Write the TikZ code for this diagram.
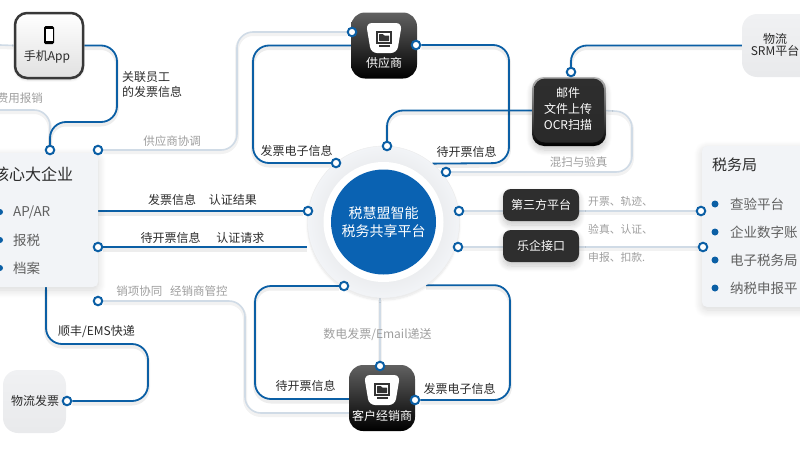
\documentclass[tikz,border=0pt]{standalone}
\usepackage{fontspec}
\setmainfont{Noto Sans CJK SC}
\usetikzlibrary{backgrounds,shadows,shadows.blur}
\definecolor{flowblue}{HTML}{0B5FA5}
\definecolor{diskblue}{HTML}{0A62B2}
\definecolor{flowgrey}{HTML}{D0DBE6}
\definecolor{panelgrey}{HTML}{F2F4F7}
\definecolor{softbox}{HTML}{F0F1F3}
\definecolor{darkbox}{HTML}{2E2E2E}
\definecolor{darktext}{HTML}{2B2B2B}
\definecolor{greytext}{HTML}{9E9E9E}
\definecolor{itemtext}{HTML}{606060}
\begin{document}
\begin{tikzpicture}[
        x=1pt, y=-1pt,
        blue_flow/.style={draw=flowblue, line width=1.8pt, rounded corners=16, preaction={draw=black, opacity=.07, line width=4pt, transform canvas={yshift=-2.5pt}}},
        grey_flow/.style={draw=flowgrey, line width=1.6pt, rounded corners=16, preaction={draw=black, opacity=.05, line width=4pt, transform canvas={yshift=-2pt}}},
        port/.style={circle, draw=flowblue, line width=2pt, fill=white, minimum size=8.5pt, inner sep=0pt},
        dark_label/.style={font=\fontsize{12}{14}\selectfont, text=darktext, inner sep=0pt},
        grey_label/.style={font=\fontsize{11.5}{14}\selectfont, text=greytext, inner sep=0pt},
        item_label/.style={font=\fontsize{13.5}{16}\selectfont, text=itemtext, inner sep=0pt, anchor=west},
        white_label/.style={font=\fontsize{12}{16}\selectfont, text=white, inner sep=0pt, align=center},
        app_tile/.style={draw=black!78, line width=2.5pt, rounded corners=12, top color=white, bottom color=black!12, minimum width=68pt, minimum height=65pt, blur shadow={shadow xshift=0pt, shadow yshift=-2pt, shadow blur steps=6, shadow opacity=15}},
        black_tile/.style={rounded corners=14, top color=black!62, middle color=black!92, bottom color=black, minimum width=66pt, minimum height=66pt},
        dark_tile/.style={rounded corners=8, fill=darkbox, minimum width=76pt, minimum height=32pt, blur shadow={shadow xshift=0pt, shadow yshift=-4pt, shadow blur steps=10, shadow blur radius=6pt, shadow opacity=22}},
        soft_tile/.style={rounded corners=15, top color=softbox, bottom color=softbox!97!black, minimum size=63pt},
        panel/.style={rounded corners=5, fill=panelgrey, blur shadow={shadow xshift=0pt, shadow yshift=-3pt, shadow blur steps=12, shadow blur radius=8pt, shadow opacity=16}}
    ]
        \path[use as bounding box, clip] (0,0) rectangle (800,450);

        % Center platform
        \node[circle, minimum size=152pt, inner sep=0pt, draw=black!8, inner color=black!16, outer color=panelgrey, blur shadow={shadow xshift=0pt, shadow yshift=-2pt, shadow blur steps=6, shadow opacity=10}] (center_ring) at (383.5,222) {};
        \node[circle, minimum size=120pt, inner sep=0pt, fill=white] (center_gap) at (383.5,222) {};
        \node[circle, minimum size=105pt, inner sep=0pt, fill=diskblue, text=white, align=center, font=\fontsize{14}{18}\selectfont] (center_disk) at (383.5,222) {税慧盟智能\\税务共享平台};

        % Left panel
        \node[panel, minimum width=108pt, minimum height=134pt] (core_box) at (44,220) {};
        \node[inner sep=0pt, text=darktext, font=\fontsize{16}{18}\selectfont, anchor=west] (core_title) at (-7,174) {核心大企业};
        \foreach \cy/\item in {212/{AP/AR},240/报税,268/档案} {
            \fill[flowblue] (0,\cy) circle (3);
            \node[item_label] (core_item\cy) at (13,\cy) {\item};
        }

        % Right panel
        \node[panel, minimum width=118pt, minimum height=161pt] (tax_box) at (761,226.5) {};
        \node[inner sep=0pt, text=darktext, font=\fontsize{15}{18}\selectfont, anchor=west] (tax_title) at (712,165) {税务局};
        \foreach \cy/\item in {204/查验平台,232/企业数字账,260/电子税务局,288/纳税申报平} {
            \fill[flowblue] (715,\cy) circle (3.5);
            \node[item_label] (tax_item\cy) at (730,\cy) {\item};
        }

        % Tiles
        \node[app_tile] (app_box) at (49,45.5) {};
        \node[black_tile] (supplier_box) at (384,45.5) {};
        \node[black_tile] (dealer_box) at (382,398) {};
        \node[rounded corners=12, top color=black!30, bottom color=black, minimum width=74pt, minimum height=69pt, blur shadow={shadow xshift=0pt, shadow yshift=-4pt, shadow blur steps=10, shadow blur radius=6pt, shadow opacity=22}] (mail_halo) at (569,111.5) {};
        \node[rounded corners=11, top color=darkbox, bottom color=darkbox!90!black, minimum width=70pt, minimum height=64pt] (mail_box) at (569,110.5) {};
        \node[dark_tile] (third_box) at (541,205) {};
        \node[dark_tile] (leqi_box) at (541,246) {};
        \node[soft_tile] (logistics_box) at (34.5,401.5) {};
        \node[soft_tile, minimum width=90pt] (srm_box) at (787,45.5) {};

        % Icons on the tiles
        \fill[black, rounded corners=1.5] (44,26) rectangle (54,44);
        \fill[white] (45.5,29) rectangle (52.5,41);
        \foreach \cx/\cy in {384/38,382/390} {
            \begin{scope}[shift={(\cx,\cy)}]
                \fill[white, rounded corners=6] (-18,-15) -- (18,-15) -- (13,15) -- (-13,15) -- cycle;
                \draw[black!80, line width=1.2pt, fill=white] (-7,-6) rectangle (7,5);
                \fill[black!80, rounded corners=.5] (-5,-4) -- (-1,-4) -- (0,-2.5) -- (5,-2.5) -- (5,3) -- (-5,3) -- cycle;
                \fill[black!80] (-5.5,7) rectangle (5.5,8.5);
            \end{scope}
        }

        % Tile texts
        \node[dark_label] (app_text) at (47,57) {手机App};
        \node[white_label] (supplier_text) at (384,63) {供应商};
        \node[white_label] (dealer_text) at (382,416) {客户经销商};
        \node[white_label, font=\fontsize{12}{16}\selectfont] (mail_text) at (568,109) {邮件\\文件上传\\OCR扫描};
        \node[white_label] (third_text) at (541,205) {第三方平台};
        \node[white_label] (leqi_text) at (541,246) {乐企接口};
        \node[dark_label] (logistics_text) at (35,401) {物流发票};
        \node[dark_label, align=center, font=\fontsize{12}{12}\selectfont] (srm_text) at (775,45) {物流\\SRM平台};

        % Ports
        \node[port] (app_port) at (50,150) {};
        \node[port] (coop_port) at (98,150) {};
        \node[port] (req_port) at (98,247) {};
        \node[port] (sales_port) at (98,301) {};
        \node[port] (logistics_port) at (67,401) {};
        \node[port] (supply_in_port) at (352,32) {};
        \node[port] (supply_out_port) at (416,45) {};
        \node[port] (issue_port) at (336,163) {};
        \node[port] (ring_top_port) at (387,146) {};
        \node[port] (ring_scan_port) at (446,172) {};
        \node[port] (ring_left_port) at (308,211) {};
        \node[port] (third_port) at (459,211) {};
        \node[port] (leqi_port) at (458,247) {};
        \node[port] (tax_port_a) at (701,211) {};
        \node[port] (tax_port_b) at (703,247) {};
        \node[port] (mail_port) at (571,72) {};
        \node[port] (dealer_top_port) at (380,366) {};
        \node[port] (dealer_out_port) at (415,400) {};
        \node[port] (ring_low_port) at (344,286) {};

        % Free ends
        \coordinate (app_left) at (0,45);
        \coordinate (fee_left) at (0,110);
        \coordinate (core_low) at (46,287);
        \coordinate (ring_low) at (380,298);
        \coordinate (dealer_grey_end) at (350,413);
        \coordinate (dealer_blue_end) at (350,399);

        % Connectors behind everything
        \begin{scope}[on background layer]
            \draw[grey_flow] (app_left) -- (app_box.west);
            \draw[grey_flow] (fee_left) -| (app_port);
            \draw[grey_flow] (coop_port) -| (237,32) -- (supply_in_port);
            \draw[grey_flow] (sales_port) -| (245,413) -- (dealer_grey_end);
            \draw[grey_flow] (ring_scan_port) -| (632,112) -- (mail_box.east);
            \draw[grey_flow] (third_port) -- (tax_port_a);
            \draw[grey_flow] (leqi_port) -- (tax_port_b);
            \draw[grey_flow] (ring_low) -- (dealer_top_port);

            \draw[blue_flow] (app_box.east) -| (117,122) -| (app_port);
            \draw[blue_flow] (supplier_box.west) -| (253,163) -- (issue_port);
            \draw[blue_flow] (supply_out_port) -| (509,163) -- (center_ring.50);
            \draw[blue_flow] (ring_top_port) |- (mail_box.west);
            \draw[blue_flow] (mail_port) |- (srm_box.west);
            \draw[blue_flow] (core_box.east |- ring_left_port) -- (ring_left_port);
            \draw[blue_flow] (req_port) -- (center_ring.west |- req_port);
            \draw[blue_flow] (core_low) |- (148,344) |- (logistics_port);
            \draw[blue_flow] (ring_low_port) -| (255,399) -- (dealer_blue_end);
            \draw[blue_flow] (center_ring.-56) -| (510,400) -- (dealer_out_port);
        \end{scope}

        % Labels on connectors
        \node[dark_label, align=left, font=\fontsize{12}{15}\selectfont, anchor=west] (staff_label) at (122,84.5) {关联员工\\的发票信息};
        \node[grey_label] (fee_label) at (20,98) {费用报销};
        \node[grey_label] (coop_label) at (172,141) {供应商协调};
        \node[dark_label] (result_label) at (202.5,200) {发票信息\hspace{13pt}认证结果};
        \node[dark_label] (request_label) at (202.5,238) {待开票信息\hspace{16pt}认证请求};
        \node[grey_label] (sales_label) at (172,291) {销项协同\hspace{8pt}经销商管控};
        \node[dark_label] (express_label) at (96.5,332) {顺丰/EMS快递};
        \node[dark_label] (issue_label) at (296.5,151) {发票电子信息};
        \node[dark_label] (pending_label) at (466.5,152) {待开票信息};
        \node[grey_label] (scan_label) at (578.5,162) {混扫与验真};
        \node[grey_label, font=\fontsize{10.8}{14}\selectfont, anchor=west] (third_label) at (588,201) {开票、轨迹、};
        \node[grey_label, font=\fontsize{10.8}{14}\selectfont, anchor=west] (verify_label) at (588,229) {验真、认证、};
        \node[grey_label, font=\fontsize{10.8}{14}\selectfont, anchor=west] (report_label) at (588,257) {申报、扣款.};
        \node[grey_label, font=\fontsize{12}{14}\selectfont] (email_label) at (377.5,335) {数电发票/Email递送};
        \node[dark_label] (dealer_pending_label) at (305.5,386) {待开票信息};
        \node[dark_label] (dealer_issue_label) at (459.5,389) {发票电子信息};

    \end{tikzpicture}
\end{document}
